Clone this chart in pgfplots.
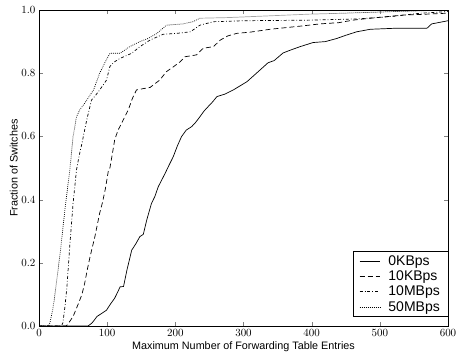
\documentclass[border=0pt]{standalone}
\usepackage{pgfplots}
\pgfplotsset{compat=1.18}
\usepackage{fontspec}
\setmainfont{Liberation Sans}
\begin{document}
\begin{tikzpicture}
\begin{axis}[
  width=409pt, height=316pt, scale only axis,
  xmin=0, xmax=600, ymin=0, ymax=1,
  xtick={0,100,...,600},
  ytick={0,0.2,0.4,0.6,0.8,1.0},
  yticklabel style={/pgf/number format/.cd,fixed,fixed zerofill,precision=1},
  tick label style={font=\fontsize{10.5}{12}\selectfont},
  tick align=inside,
  major tick length=4pt,
  xlabel={\fontsize{10.8}{12}\selectfont Maximum Number of Forwarding Table Entries},
  ylabel={\fontsize{10.8}{12}\selectfont Fraction of Switches},
  xlabel style={yshift=2pt},
  ylabel style={yshift=-3pt},
  legend style={at={(1,0.029)}, anchor=south east, draw=black, font=\fontsize{14}{15}\selectfont, row sep=0pt, inner xsep=6pt, inner ysep=2pt, cells={anchor=west}, /tikz/every odd column/.append style={column sep=6pt}},
  legend cell align=left,
  legend image code/.code={\draw[#1] (0cm,0cm) -- (0.72cm,0cm);},
]
\addplot[black, no marks, line width=0.7pt] coordinates {(0,0) (72,0) (78,0.01) (85,0.03) (92,0.04) (99,0.05) (105,0.07) (111,0.088) (116,0.11) (119,0.124) (124,0.125) (129,0.177) (136,0.24) (142,0.26) (148,0.283) (153,0.29) (158,0.335) (165,0.388) (170,0.41) (175,0.441) (185,0.483) (191,0.51) (197,0.536) (203,0.57) (209,0.599) (216,0.62) (224,0.631) (230,0.645) (236,0.662) (242,0.68) (248,0.694) (255,0.71) (261,0.726) (273,0.734) (285,0.747) (295,0.76) (305,0.773) (319,0.80) (336,0.833) (345,0.84) (358,0.864) (370,0.874) (383,0.884) (402,0.897) (420,0.90) (437,0.91) (450,0.92) (466,0.931) (486,0.939) (520,0.942) (569,0.942) (576,0.956) (600,0.966)};
\addlegendentry{0KBps}
\addplot[black, no marks, line width=0.7pt, dash pattern=on 5pt off 3pt] coordinates {(0,0) (40,0) (43,0.008) (50,0.03) (58,0.072) (63,0.10) (67,0.135) (71,0.18) (75,0.22) (82,0.283) (89,0.357) (93,0.39) (97,0.43) (102,0.494) (104,0.50) (108,0.55) (111,0.589) (116,0.62) (121,0.641) (131,0.684) (137,0.72) (143,0.747) (155,0.752) (163,0.755) (177,0.778) (187,0.805) (197,0.82) (207,0.836) (214,0.852) (231,0.858) (241,0.879) (256,0.884) (266,0.905) (277,0.918) (290,0.926) (310,0.93) (339,0.939) (388,0.95) (412,0.956) (440,0.96) (461,0.968) (486,0.974) (534,0.984) (560,0.986) (600,0.99)};
\addlegendentry{10KBps}
\addplot[black, no marks, line width=0.7pt, dash pattern=on 3pt off 2pt on 0.8pt off 2pt] coordinates {(0,0) (33,0) (35,0.01) (38,0.06) (41,0.124) (45,0.25) (50,0.388) (55,0.494) (59,0.54) (63,0.578) (70,0.652) (77,0.715) (83,0.73) (89,0.747) (99,0.778) (104,0.821) (110,0.835) (119,0.847) (136,0.863) (148,0.884) (163,0.905) (182,0.923) (202,0.926) (222,0.931) (236,0.952) (256,0.963) (300,0.966) (400,0.968) (470,0.972) (520,0.98) (560,0.99) (600,0.995)};
\addlegendentry{10MBps}
\addplot[black, no marks, line width=0.7pt, dash pattern=on 0.8pt off 1.2pt] coordinates {(0,0) (14,0) (16,0.01) (20,0.05) (23,0.093) (27,0.16) (31,0.23) (38,0.367) (45,0.49) (50,0.599) (55,0.662) (60,0.685) (67,0.705) (80,0.747) (89,0.80) (97,0.835) (104,0.863) (119,0.863) (133,0.884) (148,0.9) (160,0.91) (173,0.926) (187,0.952) (211,0.956) (226,0.963) (236,0.974) (277,0.976) (398,0.987) (450,0.99) (520,0.995) (600,1.0)};
\addlegendentry{50MBps}
\end{axis}
\pgfresetboundingbox
\path[use as bounding box] ([shift={(-39pt,-28pt)}]current axis.south west) rectangle ([shift={(8pt,10pt)}]current axis.north east);
\end{tikzpicture}
\end{document}
